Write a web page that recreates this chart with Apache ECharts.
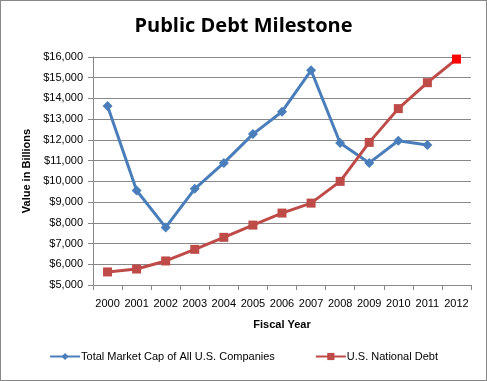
<!DOCTYPE html>
<html><head><meta charset="utf-8">
<script src="https://cdn.jsdelivr.net/npm/echarts@6/dist/echarts.min.js"></script>
<style>html,body{margin:0;padding:0;background:#fff}#c{width:487px;height:381px;box-sizing:border-box;border:1px solid #888}</style>
</head><body><div id="c"></div>
<script>
const years = ['2000','2001','2002','2003','2004','2005','2006','2007','2008','2009','2010','2011','2012'];
const marketCap = [13640, 9560, 7780, 9640, 10890, 12280, 13360, 15360, 11850, 10890, 11960, 11750, null];
const nationalDebt = [5630, 5770, 6160, 6720, 7300, 7890, 8470, 8950, 10000, 11880, 13510, 14760, 15900];
const yTicks = {min: 5000, max: 16000, interval: 1000};

const chart = echarts.init(document.getElementById('c'));
const font = 'Liberation Sans, Arial, sans-serif';
chart.setOption({
  animation: false,
  title: {text: 'Public Debt Milestone', left: 'center', top: 10,
    textStyle: {fontFamily: 'Open Sans, Liberation Sans, sans-serif', fontSize: 20, fontWeight: 'bold', color: '#000'}},
  grid: {left: 92, right: 15, top: 56, bottom: 95},
  legend: {bottom: 13, itemGap: 40, itemWidth: 30, itemHeight: 9,
    textStyle: {fontFamily: font, fontSize: 11, color: '#000', padding: [0, 0, 0, -4]},
    data: ['Total Market Cap of All U.S. Companies', 'U.S. National Debt']},
  xAxis: {type: 'category', data: years, boundaryGap: true,
    name: 'Fiscal Year', nameLocation: 'middle', nameGap: 34,
    nameTextStyle: {fontFamily: font, fontSize: 11, fontWeight: 'bold', color: '#000'},
    axisLine: {lineStyle: {color: '#888'}},
    axisTick: {show: true, length: 5, lineStyle: {color: '#888'}, alignWithLabel: false},
    axisLabel: {fontFamily: font, fontSize: 11, color: '#000', margin: 13, interval: 0}},
  yAxis: {type: 'value', min: yTicks.min, max: yTicks.max, interval: yTicks.interval,
    name: 'Value in Billions', nameLocation: 'middle', nameGap: 52, nameRotate: 90,
    nameTextStyle: {fontFamily: font, fontSize: 11, fontWeight: 'bold', color: '#000'},
    axisLine: {show: true, lineStyle: {color: '#888'}},
    axisTick: {show: true, length: 5, lineStyle: {color: '#888'}},
    splitLine: {lineStyle: {color: '#888', width: 1}},
    axisLabel: {fontFamily: font, fontSize: 11, color: '#000', margin: 10,
      formatter: v => '$' + v.toLocaleString('en-US')}},
  series: [
    {name: 'Total Market Cap of All U.S. Companies', type: 'line', data: marketCap,
      symbol: 'diamond', symbolSize: 10, showAllSymbol: true,
      lineStyle: {color: '#4a7ebb', width: 3}, itemStyle: {color: '#4a7ebb'}},
    {name: 'U.S. National Debt', type: 'line',
      data: nationalDebt.map((v, i) => i === nationalDebt.length - 1 ? {value: v, itemStyle: {color: '#ff0000'}} : v),
      symbol: 'rect', symbolSize: 9, showAllSymbol: true,
      lineStyle: {color: '#be4b48', width: 3}, itemStyle: {color: '#be4b48'}}
  ]
});
</script></body></html>
